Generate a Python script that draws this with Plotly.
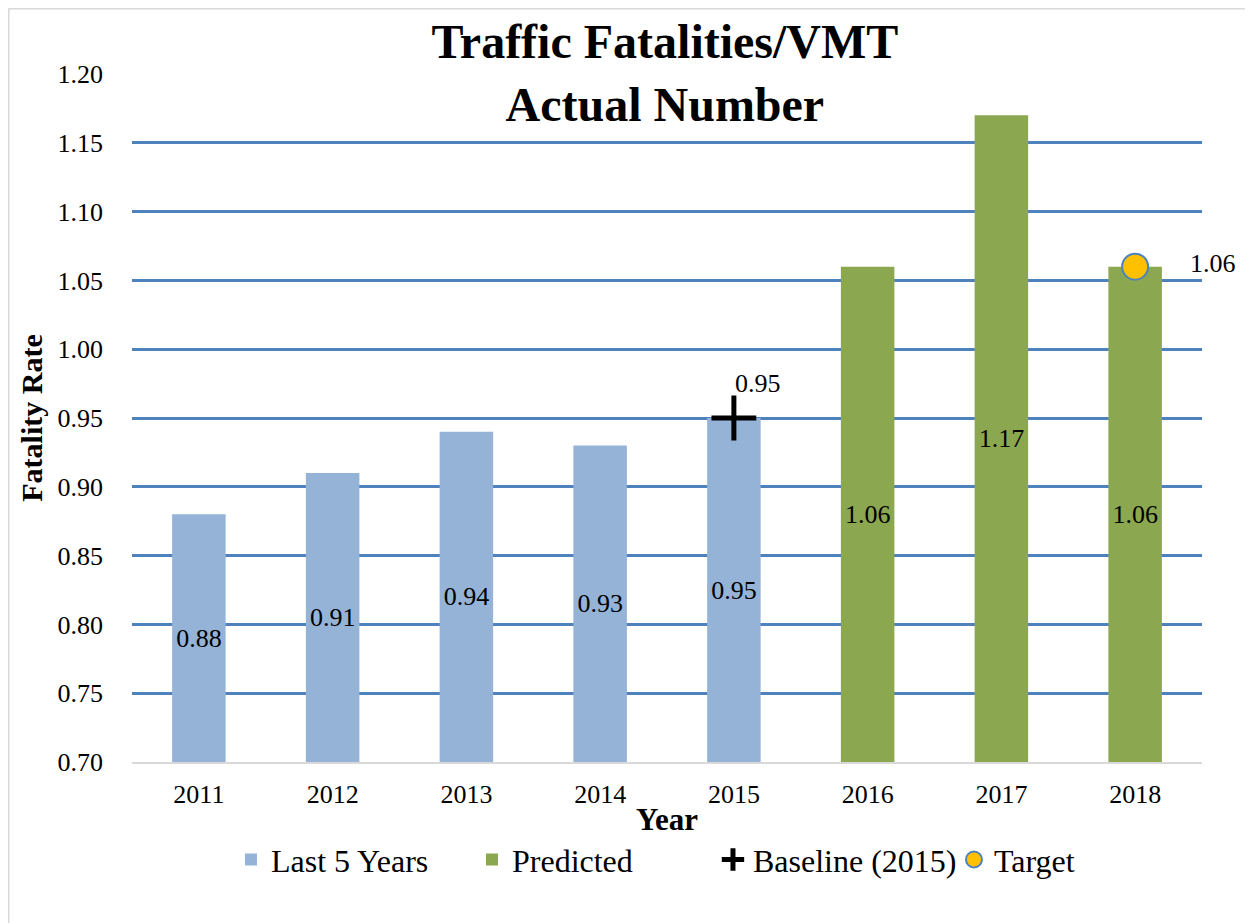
import plotly.graph_objects as go

years = [2011, 2012, 2013, 2014, 2015, 2016, 2017, 2018]
last5_years = [2011, 2012, 2013, 2014, 2015]
last5_values = [0.88, 0.91, 0.94, 0.93, 0.95]
pred_years = [2016, 2017, 2018]
pred_values = [1.06, 1.17, 1.06]
baseline_year = [2015]
baseline_value = [0.95]
target_year = [2018]
target_value = [1.06]
y_ticks = [0.70, 0.75, 0.80, 0.85, 0.90, 0.95, 1.00, 1.05, 1.10, 1.15, 1.20]
y_min, y_max = 0.70, 1.20

FONT = "Liberation Serif"
BLUE_BAR = "#95B3D7"
GREEN_BAR = "#8BA74F"
GRID = "#4F81BD"
LBL = 26

fig = go.Figure()
fig.add_trace(go.Bar(
    x=last5_years, y=[v - y_min for v in last5_values], base=y_min,
    name="Last 5 Years", marker=dict(color=BLUE_BAR, line=dict(width=0)),
    text=[f"{v:.2f}" for v in last5_values], textposition="inside",
    insidetextanchor="middle", textfont=dict(family=FONT, size=LBL, color="black"),
    hoverinfo="skip",
))
fig.add_trace(go.Bar(
    x=pred_years, y=[v - y_min for v in pred_values], base=y_min,
    name="Predicted", marker=dict(color=GREEN_BAR, line=dict(width=0)),
    text=[f"{v:.2f}" for v in pred_values], textposition="inside",
    insidetextanchor="middle", textfont=dict(family=FONT, size=LBL, color="black"),
    hoverinfo="skip",
))
fig.add_trace(go.Scatter(
    x=baseline_year, y=baseline_value, mode="markers", name="Baseline (2015)",
    marker=dict(symbol="cross-thin", size=32, line=dict(color="black", width=5), color="black"),
))
fig.add_trace(go.Scatter(
    x=target_year, y=target_value, mode="markers", name="Target",
    marker=dict(symbol="circle", size=26, color="#FFC000", line=dict(color=GRID, width=2)),
))

for x, v in zip(baseline_year, baseline_value):
    fig.add_annotation(x=x, y=v, text=f"{v:.2f}", showarrow=False,
                       xshift=24, yshift=35, font=dict(family=FONT, size=LBL, color="black"))
for x, v in zip(target_year, target_value):
    fig.add_annotation(x=x, y=v, text=f"{v:.2f}", showarrow=False,
                       xshift=78, yshift=3, font=dict(family=FONT, size=LBL, color="black"))

fig.update_layout(
    width=1245, height=915,
    margin=dict(l=124, r=51, t=66, b=161, autoexpand=False),
    paper_bgcolor="white", plot_bgcolor="white",
    barmode="overlay", bargap=0.6,
    font=dict(family=FONT, size=LBL, color="black"),
    title=dict(text="<b>Traffic Fatalities/VMT<br>Actual Number</b>",
               xref="paper", x=0.498, xanchor="center",
               yref="container", y=0.945, yanchor="middle",
               font=dict(family=FONT, size=48, color="black")),
    showlegend=True,
    legend=dict(orientation="h", x=0.0925, xanchor="left", y=-0.142, yanchor="middle",
                entrywidth=196, entrywidthmode="pixels",
                font=dict(family=FONT, size=32, color="black"), traceorder="normal"),
    xaxis=dict(tickmode="array", tickvals=years, ticktext=[str(y) for y in years],
               range=[years[0] - 0.5, years[-1] + 0.5],
               showgrid=False, showline=True, linecolor="#D9D9D9", linewidth=2,
               ticks="", tickfont=dict(family=FONT, size=LBL), ticklabelstandoff=8,
               title=dict(text="<b>Year</b>", font=dict(family=FONT, size=31), standoff=0)),
    yaxis=dict(range=[y_min, y_max], tickvals=y_ticks, ticktext=[f"{t:.2f}" for t in y_ticks],
               showgrid=True, gridcolor=GRID, gridwidth=2.5, zeroline=False,
               ticks="", tickfont=dict(family=FONT, size=LBL), ticklabelstandoff=28,
               title=dict(text="<b>Fatality Rate</b>", font=dict(family=FONT, size=30), standoff=6)),
    shapes=[
        dict(type="line", xref="paper", yref="paper", x0=-0.1154, x1=1.05, y0=1.0952, y1=1.0952,
             line=dict(color="#D9D9D9", width=2), layer="below"),
        dict(type="line", xref="paper", yref="paper", x0=-0.1154, x1=-0.1154, y0=-0.25, y1=1.0952,
             line=dict(color="#D9D9D9", width=2), layer="below"),
    ],
)

fig.write_html("out.html")
